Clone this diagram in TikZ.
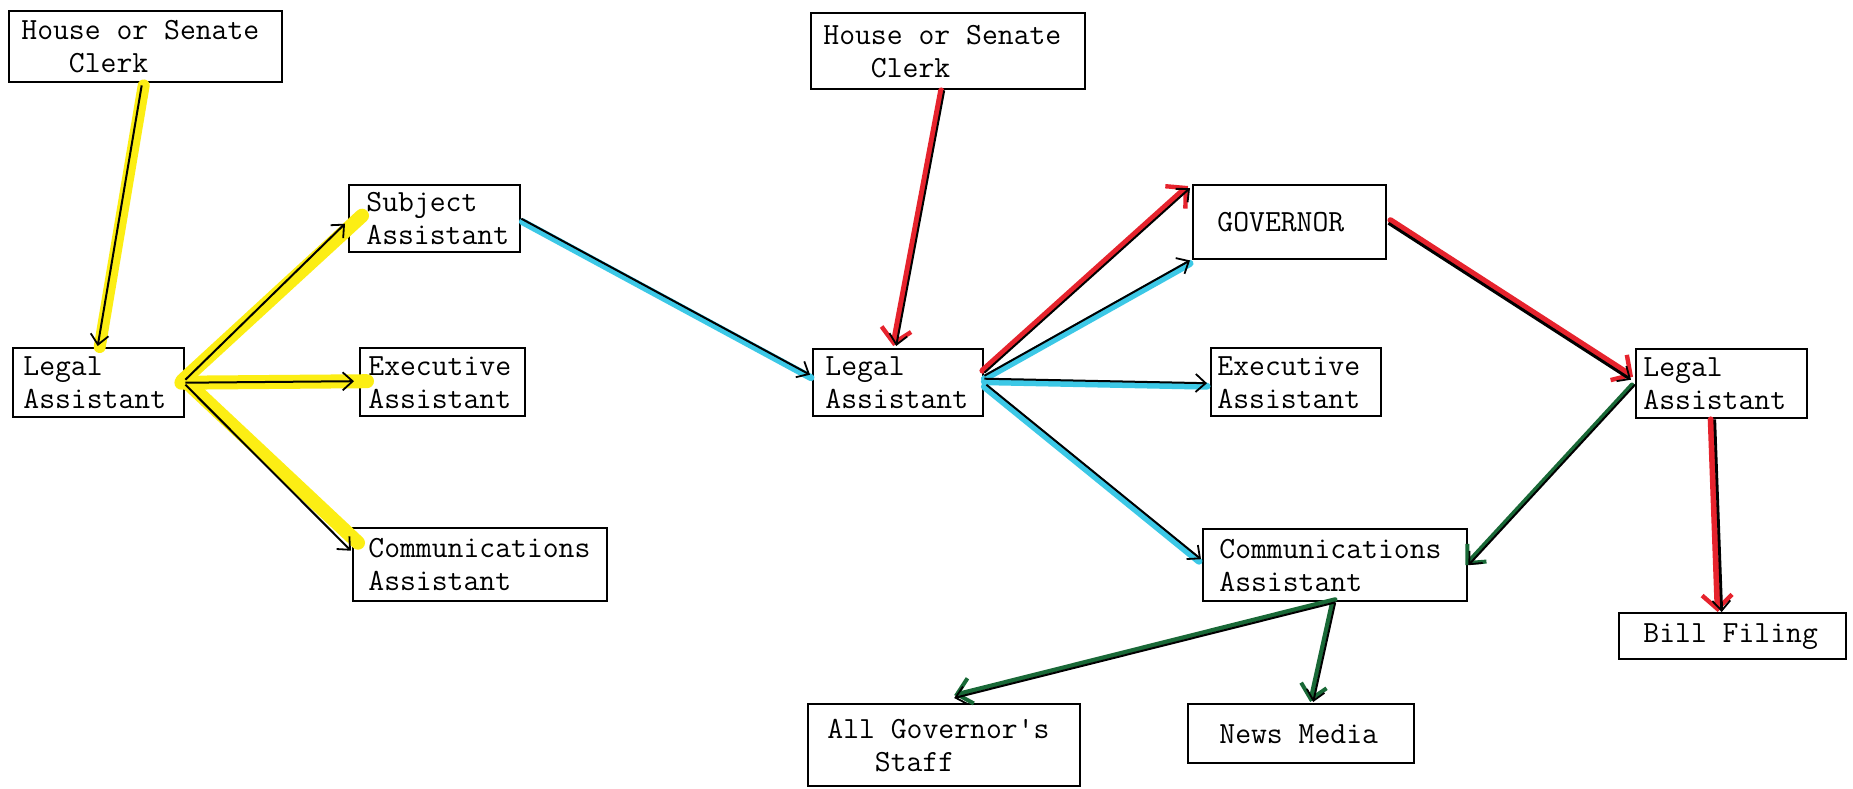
\documentclass[tikz,border=0pt]{standalone}
\usepackage{fontspec}
\usetikzlibrary{arrows.meta}
\definecolor{hlyellow}{RGB}{252,238,20}
\definecolor{hlcyan}{RGB}{60,200,230}
\definecolor{mkred}{RGB}{230,35,45}
\definecolor{mkgreen}{RGB}{25,105,55}
\begin{document}
\begin{tikzpicture}[x=0.5pt,y=-0.5pt,
  box/.style={draw, line width=1.2pt, rectangle, inner sep=0pt, anchor=north west},
  txt/.style={font=\ttfamily\addfontfeatures{FakeBold=0.4}\fontsize{15.4pt}{16.5pt}\selectfont, align=left, inner sep=0pt, anchor=west},
  blk/.style={draw=black, line width=1pt, -{Straight Barb[length=5pt,width=9pt,line width=0.9pt]}},
  yel/.style={draw=hlyellow, line width=7pt, line cap=round},
  cya/.style={draw=hlcyan, line width=3.5pt, line cap=round},
  redm/.style={draw=mkred, line width=3pt, line cap=round, -{Straight Barb[length=7pt,width=15pt,line width=2.2pt]}},
  grn/.style={draw=mkgreen, line width=2.2pt, line cap=round, -{Straight Barb[length=7pt,width=13pt,line width=2pt]}}
]
\fill[white] (0,0) rectangle (1853,788);
\useasboundingbox (0,0) rectangle (1853,788);

% boxes
\node[box, minimum width=136.5pt, minimum height=35.5pt] (clerkL) at (8,10) {};
\node[txt] (clerkLt) at ([xshift=6.5pt]clerkL.west) {House or Senate\\\phantom{Cle}Clerk};
\node[box, minimum width=85.5pt, minimum height=34.5pt] (legalL) at (12,347) {};
\node[txt] (legalLt) at ([xshift=5.5pt]legalL.west) {Legal\\Assistant};
\node[box, minimum width=85.5pt, minimum height=33.5pt] (subj) at (348,184) {};
\node[txt] (subjt) at ([xshift=9pt]subj.west) {Subject\\Assistant};
\node[box, minimum width=82.5pt, minimum height=34pt] (execL) at (359,347) {};
\node[txt] (execLt) at ([xshift=4.5pt]execL.west) {Executive\\Assistant};
\node[box, minimum width=127pt, minimum height=36.5pt] (commL) at (352,527) {};
\node[txt] (commLt) at ([xshift=8pt]commL.west) {Communications\\Assistant};

\node[box, minimum width=137pt, minimum height=38pt] (clerkM) at (810,12) {};
\node[txt] (clerkMt) at ([xshift=6.5pt]clerkM.west) {House or Senate\\\phantom{Cle}Clerk};
\node[box, minimum width=85pt, minimum height=33.5pt] (legalM) at (812,348) {};
\node[txt] (legalMt) at ([xshift=6.5pt]legalM.west) {Legal\\Assistant};
\node[box, minimum width=96.5pt, minimum height=37pt] (gov) at (1192,184) {};
\node[txt] (govt) at ([xshift=12.5pt]gov.west) {GOVERNOR};
\node[box, minimum width=85pt, minimum height=34pt] (execM) at (1210,347) {};
\node[txt] (execMt) at ([xshift=3.5pt]execM.west) {Executive\\Assistant};
\node[box, minimum width=132pt, minimum height=36pt] (commM) at (1202,528) {};
\node[txt] (commMt) at ([xshift=8.5pt]commM.west) {Communications\\Assistant};
\node[box, minimum width=136pt, minimum height=41pt] (allgov) at (807,703) {};
\node[txt] (allgovt) at ([xshift=10pt]allgov.west) {All Governor's\\\phantom{All}Staff};
\node[box, minimum width=113pt, minimum height=29.5pt] (news) at (1187,703) {};
\node[txt] (newst) at ([xshift=16pt]news.west) {News Media};

\node[box, minimum width=85.5pt, minimum height=34.5pt] (legalR) at (1635,348) {};
\node[txt] (legalRt) at ([xshift=4pt]legalR.west) {Legal\\Assistant};
\node[box, minimum width=113.5pt, minimum height=23pt] (bill) at (1618,612) {};
\node[txt] (billt) at ([xshift=12.5pt]bill.west) {Bill Filing};

% highlights (behind)
\draw[yel, line width=6pt, transform canvas={shift={(1pt,0pt)}}] ([shift={(-4,2)}]clerkL.south) -- ([shift={(-1,0)}]legalL.north);
\draw[yel] ([shift={(-3,-2)}]legalL.east) -- ([shift={(14,-3)}]subj.west);
\draw[yel] ([shift={(-4,0)}]legalL.east) -- ([shift={(8,-1)}]execL.west);
\draw[yel, transform canvas={shift={(2pt,1pt)}}] ([shift={(-2,2)}]legalL.east) -- ([shift={(2,-20)}]commL.west);

\draw[cya, transform canvas={shift={(0.5pt,-1.5pt)}}] (subj.east) -- ([shift={(-2,-8)}]legalM.west);
\draw[cya, transform canvas={shift={(0pt,-1.5pt)}}] ([shift={(0,-7)}]legalM.east) -- ([shift={(-2,0)}]gov.south west);
\draw[cya, transform canvas={shift={(0pt,-1.5pt)}}] ([shift={(0,-4)}]legalM.east) -- ([shift={(-3,1)}]execM.west);
\draw[cya, transform canvas={shift={(-1pt,-1pt)}}] ([shift={(2,2)}]legalM.east) -- ([shift={(-1,-6)}]commM.west);

\draw[redm, transform canvas={shift={(-1.5pt,0pt)}}] ([shift={(-4,0)}]clerkM.south) -- ([shift={(-2,-2)}]legalM.north);
\draw[redm, transform canvas={shift={(-1pt,1pt)}}] ([shift={(0,-10)}]legalM.east) -- ([shift={(-2,4)}]gov.north west);
\draw[redm, transform canvas={shift={(1pt,1.5pt)}}] ([shift={(1,1)}]gov.east) -- ([shift={(-4,-4)}]legalR.west);
\draw[redm, transform canvas={shift={(-2pt,0pt)}}] ([shift={(-7,0)}]legalR.south) -- ([shift={(-11,0)}]bill.north);

\draw[grn, transform canvas={shift={(-1.5pt,0pt)}}] ([shift={(0,1)}]legalR.west) -- (commM.east);
\draw[grn, transform canvas={shift={(0pt,1.5pt)}}] (commM.south) -- ([shift={(10,-5)}]allgov.north);
\draw[grn, transform canvas={shift={(-1.5pt,0pt)}}] (commM.south) -- ([shift={(12,-1)}]news.north);

% black connectors
\draw[blk] ([shift={(-4,2)}]clerkL.south) -- ([shift={(-1,-1)}]legalL.north);
\draw[blk] ([shift={(0,-3)}]legalL.east) -- ([shift={(-3,5)}]subj.west);
\draw[blk] (legalL.east) -- ([shift={(-5,-1)}]execL.west);
\draw[blk] ([shift={(0,2)}]legalL.east) -- ([shift={(-1,-14)}]commL.west);

\draw[blk] (subj.east) -- ([shift={(-2,-8)}]legalM.west);
\draw[blk] ([shift={(-4,0)}]clerkM.south) -- ([shift={(-2,-2)}]legalM.north);
\draw[blk] ([shift={(0,-10)}]legalM.east) -- ([shift={(-2,4)}]gov.north west);
\draw[blk] ([shift={(0,-7)}]legalM.east) -- ([shift={(-2,0)}]gov.south west);
\draw[blk] ([shift={(0,-4)}]legalM.east) -- ([shift={(-3,1)}]execM.west);
\draw[blk] ([shift={(2,2)}]legalM.east) -- ([shift={(-1,-6)}]commM.west);

\draw[blk, line width=1.5pt] ([shift={(1,1)}]gov.east) -- ([shift={(-4,-4)}]legalR.west);
\draw[blk] ([shift={(0,1)}]legalR.west) -- (commM.east);
\draw[blk, line width=1.4pt] ([shift={(-7,0)}]legalR.south) -- ([shift={(-11,0)}]bill.north);
\draw[blk] (commM.south) -- ([shift={(10,-5)}]allgov.north);
\draw[blk] (commM.south) -- ([shift={(12,-1)}]news.north);
\end{tikzpicture}
\end{document}
